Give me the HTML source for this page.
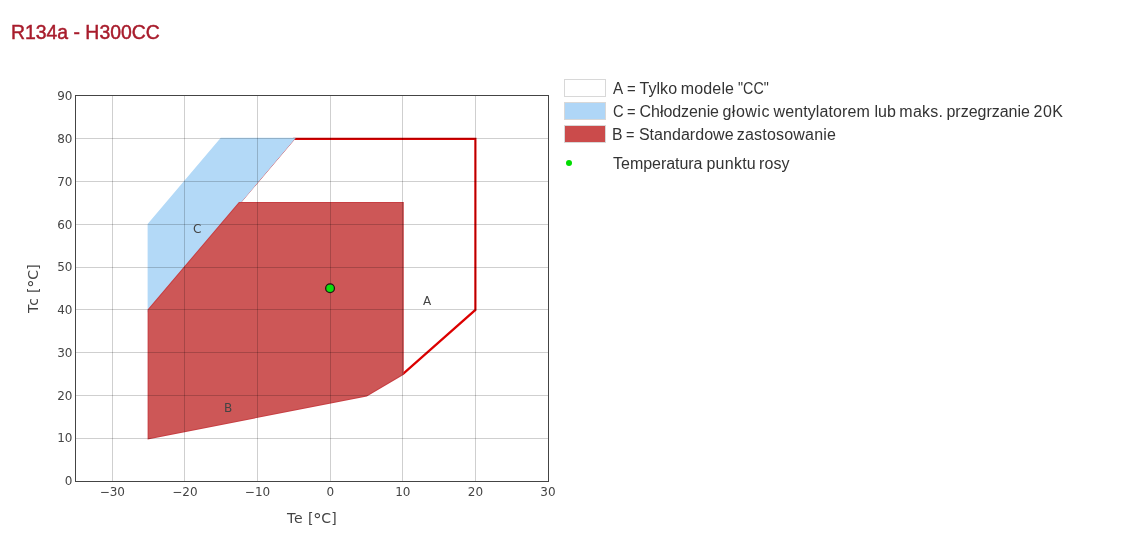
<!DOCTYPE html>
<html lang="pl">
<head>
<meta charset="utf-8">
<title>R134a - H300CC</title>
<style>
html,body{margin:0;padding:0;background:#fff;}
body{width:1130px;height:550px;position:relative;overflow:hidden;font-family:"Liberation Sans",sans-serif;}
h1{position:absolute;left:11px;top:20px;margin:0;font-size:19.4px;line-height:24px;font-weight:normal;color:#a81c2c;white-space:nowrap;-webkit-text-stroke:0.45px #a81c2c;}
.legend{position:absolute;left:0;top:0;font-size:16px;color:#333;}
.sw{position:absolute;left:564px;width:40px;height:16px;border:1px solid #d8d8d8;}
.lr{position:absolute;left:0;height:18px;line-height:18px;white-space:nowrap;}
.lr span{position:absolute;top:0;white-space:nowrap;transform-origin:0 0;}
.dot{position:absolute;left:565.6px;top:160px;width:6px;height:6px;border-radius:50%;background:#00dc00;}
</style>
</head>
<body>
<h1>R134a - H300CC</h1>
<svg width="1130" height="550" viewBox="0 0 1130 550" style="position:absolute;left:0;top:0">
<polyline points="239.38,202.94 293.85,138.78 475.38,138.78 475.38,309.89 402.77,374.06" fill="none" stroke="#dc0000" stroke-width="2.2" stroke-linejoin="miter"/>
<polygon points="148.62,309.89 148.62,224.33 221.23,138.78 293.85,138.78" fill="#b3d9f7" stroke="#b3d9f7" stroke-width="2" stroke-linejoin="miter"/>
<polygon points="148.62,438.22 148.62,309.89 239.38,202.94 402.77,202.94 402.77,374.06 366.46,395.44" fill="#cd5757" stroke="#c73f43" stroke-width="2" stroke-linejoin="miter" paint-order="stroke"/>
<g shape-rendering="crispEdges" stroke="rgba(0,0,0,0.19)" stroke-width="1">
<line x1="112.5" y1="96.0" x2="112.5" y2="481.0"/>
<line x1="184.5" y1="96.0" x2="184.5" y2="481.0"/>
<line x1="257.5" y1="96.0" x2="257.5" y2="481.0"/>
<line x1="330.5" y1="96.0" x2="330.5" y2="481.0"/>
<line x1="402.5" y1="96.0" x2="402.5" y2="481.0"/>
<line x1="475.5" y1="96.0" x2="475.5" y2="481.0"/>
<line x1="76.0" y1="438.5" x2="548.0" y2="438.5"/>
<line x1="76.0" y1="395.5" x2="548.0" y2="395.5"/>
<line x1="76.0" y1="352.5" x2="548.0" y2="352.5"/>
<line x1="76.0" y1="309.5" x2="548.0" y2="309.5"/>
<line x1="76.0" y1="267.5" x2="548.0" y2="267.5"/>
<line x1="76.0" y1="224.5" x2="548.0" y2="224.5"/>
<line x1="76.0" y1="181.5" x2="548.0" y2="181.5"/>
<line x1="76.0" y1="138.5" x2="548.0" y2="138.5"/>
</g>
<rect x="75.5" y="95.5" width="473.0" height="386.0" fill="none" stroke="#444" stroke-width="1"/>
<circle cx="330.05" cy="288.30" r="4.4" fill="#0de00d" stroke="#261414" stroke-width="1.3"/>
<g font-family="'DejaVu Sans', 'Liberation Sans', sans-serif" font-size="12" fill="#444">
<text x="112.3" y="496" text-anchor="middle">−30</text>
<text x="184.9" y="496" text-anchor="middle">−20</text>
<text x="257.5" y="496" text-anchor="middle">−10</text>
<text x="330.2" y="496" text-anchor="middle">0</text>
<text x="402.8" y="496" text-anchor="middle">10</text>
<text x="475.4" y="496" text-anchor="middle">20</text>
<text x="548.0" y="496" text-anchor="middle">30</text>
<text x="72.5" y="485.2" text-anchor="end">0</text>
<text x="72.5" y="442.4" text-anchor="end">10</text>
<text x="72.5" y="399.6" text-anchor="end">20</text>
<text x="72.5" y="356.9" text-anchor="end">30</text>
<text x="72.5" y="314.1" text-anchor="end">40</text>
<text x="72.5" y="271.3" text-anchor="end">50</text>
<text x="72.5" y="228.5" text-anchor="end">60</text>
<text x="72.5" y="185.8" text-anchor="end">70</text>
<text x="72.5" y="143.0" text-anchor="end">80</text>
<text x="72.5" y="100.2" text-anchor="end">90</text>
<text x="197.3" y="233" text-anchor="middle" font-size="12">C</text>
<text x="228" y="412" text-anchor="middle" font-size="12">B</text>
<text x="427" y="305" text-anchor="middle" font-size="12">A</text>
<text y="523" font-size="14"><tspan x="287.1 294.1">Te</tspan> <tspan x="308.1">[</tspan><tspan x="312.9" dy="2.6" font-size="17.5">°</tspan><tspan x="321.2 331.3" dy="-2.6">C]</tspan></text>
<text transform="translate(38.2,313) rotate(-90)" y="0" font-size="14"><tspan x="0.1 7.3">Tc</tspan> <tspan x="20.1">[</tspan><tspan x="24.9" dy="2.6" font-size="17.5">°</tspan><tspan x="33.2 43.3" dy="-2.6">C]</tspan></text>
</g>
</svg>
<div class="legend">
<span class="sw" style="top:79px;background:#fff"></span>
<span class="sw" style="top:102px;background:#afd6f7"></span>
<span class="sw" style="top:125px;background:#cb4b4b"></span>
<span class="dot"></span>
<div class="lr" style="top:80px"><span style="left:612.50px;letter-spacing:0.000px;transform:scaleX(0.950)">A</span> <span style="left:627.09px;letter-spacing:0.000px;transform:scaleX(0.928)">=</span> <span style="left:639.47px;letter-spacing:0.059px">Tylko</span> <span style="left:680.86px;letter-spacing:0.128px">modele</span> <span style="left:738.01px;letter-spacing:0.000px;transform:scaleX(0.893)">&quot;CC&quot;</span></div>
<div class="lr" style="top:103px"><span style="left:612.60px;letter-spacing:0.000px;transform:scaleX(0.920)">C</span> <span style="left:627.17px;letter-spacing:0.000px;transform:scaleX(0.916)">=</span> <span style="left:639.60px;letter-spacing:-0.070px">Chłodzenie</span> <span style="left:722.48px;letter-spacing:0.491px">głowic</span> <span style="left:773.49px;letter-spacing:0.108px">wentylatorem</span> <span style="left:874.50px;letter-spacing:-0.012px">lub</span> <span style="left:899.33px;letter-spacing:0.263px">maks.</span> <span style="left:946.49px;letter-spacing:-0.026px">przegrzanie</span> <span style="left:1033.60px;letter-spacing:0.466px">20K</span></div>
<div class="lr" style="top:126px"><span style="left:612.37px;letter-spacing:0.000px;transform:scaleX(0.983)">B</span> <span style="left:626.39px;letter-spacing:0.000px;transform:scaleX(0.902)">=</span> <span style="left:638.91px;letter-spacing:0.037px">Standardowe</span> <span style="left:736.83px;letter-spacing:0.198px">zastosowanie</span></div>
<div class="lr" style="top:155px"><span style="left:613.11px;letter-spacing:-0.043px">Temperatura</span> <span style="left:706.46px;letter-spacing:0.252px">punktu</span> <span style="left:759.07px;letter-spacing:0.107px">rosy</span></div>
</div>
</body>
</html>
